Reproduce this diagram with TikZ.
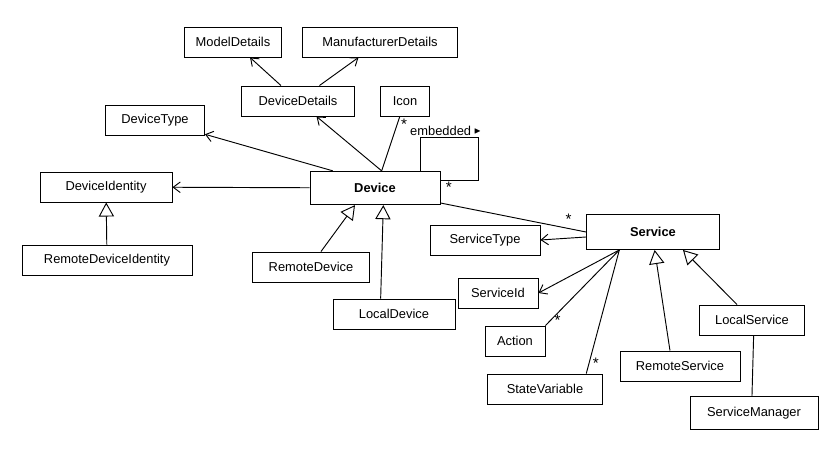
\documentclass[tikz,border=0pt]{standalone}
\usepackage{amssymb}
\usepackage{fontspec}
\setmainfont{Liberation Sans}
\usetikzlibrary{arrows.meta,positioning}
\tikzset{
  cls/.style={draw,thick,minimum height=0.9cm,inner sep=3pt,font=\fontsize{11}{13}\selectfont},
  uses/.style={thick,-{Straight Barb[length=6pt,width=9pt]}},
  isa/.style={thick,-{Triangle[open,length=12pt,width=13pt]}},
  assoc/.style={thick},
  mult/.style={font=\fontsize{13}{13}\selectfont,inner sep=1pt}
}
\newcommand{\px}[2]{(#1*0.03,-#2*0.03)}
\begin{document}
\begin{tikzpicture}
\useasboundingbox (0,0) rectangle (25.17,-13.59);
\node[cls,minimum width=2.91cm] (model) at \px{233}{42} {ModelDetails};
\node[cls,minimum width=4.65cm] (manuf) at \px{380}{42} {ManufacturerDetails};
\node[cls,minimum width=3.39cm] (details) at \px{298}{101} {DeviceDetails};
\node[cls,minimum width=1.47cm] (icon) at \px{405}{101} {Icon};
\node[cls,minimum width=2.97cm] (dtype) at \px{155}{120} {DeviceType};
\node[cls,minimum width=3.96cm] (ident) at \px{106}{187} {DeviceIdentity};
\node[cls,minimum width=5.1cm] (rident) at \px{107}{260} {RemoteDeviceIdentity};
\node[cls,minimum width=3.9cm,minimum height=1cm,font=\fontsize{11}{13}\selectfont\bfseries] (device) at \px{375}{188} {Device};
\node[cls,minimum width=3.51cm] (rdevice) at \px{311}{267} {RemoteDevice};
\node[cls,minimum width=3.66cm] (ldevice) at \px{394}{314} {LocalDevice};
\node[cls,minimum width=3.99cm,minimum height=1.05cm,font=\fontsize{11}{13}\selectfont\bfseries] (service) at \px{653}{232} {Service};
\node[cls,minimum width=3.3cm] (stype) at \px{485}{240} {ServiceType};
\node[cls,minimum width=2.4cm] (sid) at \px{498}{293} {ServiceId};
\node[cls,minimum width=1.8cm] (action) at \px{515}{341} {Action};
\node[cls,minimum width=3.45cm] (statevar) at \px{545}{389} {StateVariable};
\node[cls,minimum width=3.6cm] (rservice) at \px{680}{366} {RemoteService};
\node[cls,minimum width=3.15cm] (lservice) at \px{752}{320} {LocalService};
\node[cls,minimum width=3.84cm,minimum height=0.99cm] (manager) at \px{754}{413} {ServiceManager};
% device side
\draw[uses] (details) -- (model);
\draw[uses] (details) -- (manuf);
\draw[uses] ([xshift=0.2cm]device.north) -- (details);
\draw[uses] ([xshift=0.7cm]device.north west) -- (dtype);
\draw[uses] (device) -- (ident);
\draw[assoc] ([xshift=0.2cm]device.north) -- (icon) node[mult,pos=0.85,right=2pt] {*};
\draw[isa] (rident) -- (ident);
\draw[isa] ([xshift=0.3cm]rdevice.north) -- ([xshift=-0.6cm]device.south);
\draw[isa] ([xshift=-0.4cm]ldevice.north) -- ([xshift=0.25cm]device.south);
% embedded
\coordinate (e1) at ([xshift=-0.6cm]device.north east);
\coordinate (e2) at ([yshift=-0.3cm]device.north east);
\draw[assoc] (e1) |- ++(1.75,1.0) coordinate (e3) |- (e2);
\node[font=\fontsize{11}{13}\selectfont,anchor=south west,inner sep=1pt] (emb) at ([xshift=-0.35cm]e1 |- e3) {embedded};
\node[right=1pt of emb,inner sep=0pt,font=\scriptsize] (tri) {$\blacktriangleright$};
\node[mult] (es) at ([xshift=0.25cm,yshift=-0.2cm]e2) {*};
% service side
\draw[assoc] ([yshift=-0.45cm]device.east) -- (service.west) node[mult,pos=0.88,above=2pt] {*};
\draw[uses] ([yshift=-0.15cm]service.west) -- (stype.east);
\coordinate (s1) at ([xshift=1.0cm]service.south west);
\draw[uses] (s1) -- (sid.east);
\draw[assoc] (s1) -- (action.north east) node[mult,pos=0.93,right=2pt] {*};
\draw[assoc] (s1) -- ([xshift=-0.5cm]statevar.north east) node[mult,pos=0.92,right=2pt] {*};
\draw[isa] ([xshift=-0.3cm]rservice.north) -- ([xshift=0.05cm]service.south);
\draw[isa] ([xshift=-0.45cm]lservice.north) -- ([xshift=0.9cm]service.south);
\draw[assoc] ([xshift=0.05cm]lservice.south) -- (lservice.south |- manager.north);
\end{tikzpicture}
\end{document}
